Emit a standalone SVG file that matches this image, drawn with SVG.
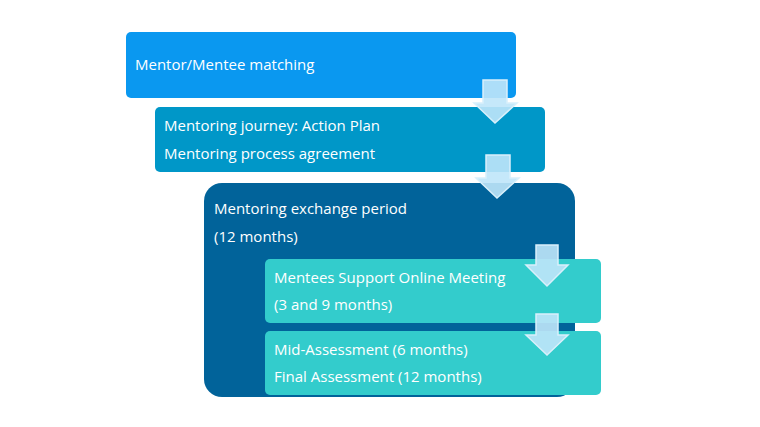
<svg xmlns="http://www.w3.org/2000/svg" width="760" height="427" viewBox="0 0 760 427">
<style>
text{font-family:"Open Sans","Noto Sans",sans-serif;font-size:15px;fill:#fff}
.ar{fill:#bfe6fa;fill-opacity:0.9;stroke:#d9f0fb;stroke-width:1.5}
</style>
<rect width="760" height="427" fill="#fff"/>
<g id="n1"><rect x="126" y="32" width="390" height="66" rx="5" fill="#0a98f0"/><text x="135" y="70">Mentor/Mentee matching</text></g>
<g id="n2"><rect x="155" y="107" width="390" height="65" rx="5" fill="#0097c8"/><text x="164" y="131">Mentoring journey: Action Plan</text><text x="164" y="159">Mentoring process agreement</text></g>
<g id="n3"><rect x="204" y="183" width="371" height="214" rx="18" fill="#01639a"/><text x="214" y="214">Mentoring exchange period</text><text x="214" y="242">(12 months)</text></g>
<g id="n4"><rect x="265" y="259" width="336" height="64" rx="5" fill="#33cccc"/><text x="274" y="283">Mentees Support Online Meeting</text><text x="274" y="310">(3 and 9 months)</text></g>
<g id="n5"><rect x="265" y="331" width="336" height="64" rx="5" fill="#33cccc"/><text x="274" y="355">Mid-Assessment (6 months)</text><text x="274" y="382">Final Assessment (12 months)</text></g>
<g id="connectors">
<path class="ar" d="M483 80H507V103H517L495 123L474 103H483Z"/>
<path class="ar" d="M486 155H510V178H519L497 198L476 178H486Z"/>
<path class="ar" d="M536 245H558V265H568L547 286L526 265H536Z"/>
<path class="ar" d="M536 314H558V335H568L547 355L526 335H536Z"/>
</g>
</svg>
